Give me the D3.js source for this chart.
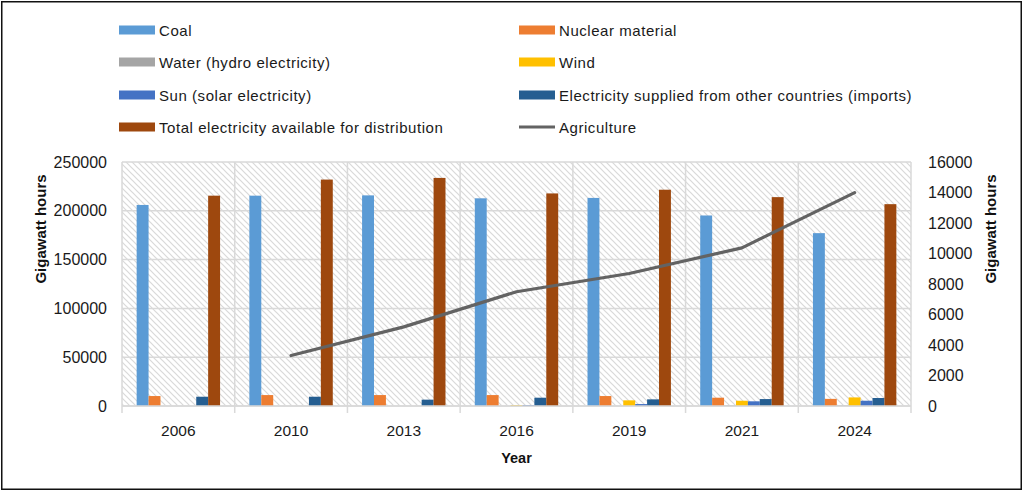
<!DOCTYPE html>
<html>
<head>
<meta charset="utf-8">
<script src="https://cdn.jsdelivr.net/npm/d3@7/dist/d3.min.js"></script>
<style>
  html, body { margin: 0; padding: 0; background: #fff; }
  svg { display: block; font-family: "Liberation Sans", Arial, sans-serif; }
</style>
</head>
<body>
<svg id="chart" width="1024" height="491"></svg>
<script>
// ---------- DATA ----------
const years = ["2006", "2010", "2013", "2016", "2019", "2021", "2024"];
const seriesNames = [
  "Coal",
  "Nuclear material",
  "Water (hydro electricity)",
  "Wind",
  "Sun (solar electricity)",
  "Electricity supplied from other countries (imports)",
  "Total electricity available for distribution"
];
const coal    = [206000, 215500, 215800, 212800, 213200, 195200, 177100];
const nuclear = [10200, 11200, 11200, 11200, 10200, 8500, 7300];
const hydro   = [0, 0, 0, 0, 0, 600, 600];
const wind    = [0, 0, 0, 900, 5800, 5400, 8800];
const solar   = [0, 0, 0, 900, 2000, 4800, 5400];
const imports = [9500, 9500, 6500, 8500, 6800, 7100, 8200];
const total   = [215500, 232000, 233700, 217800, 221600, 214000, 206800];
const agriculture = [null, 3310, 5190, 7490, 8690, 10370, 13990];
const lineName = "Agriculture";
const leftTicks = [0, 50000, 100000, 150000, 200000, 250000];
const rightTicks = [0, 2000, 4000, 6000, 8000, 10000, 12000, 14000, 16000];
const seriesValues = [coal, nuclear, hydro, wind, solar, imports, total];
const colors = ["#5B9BD5", "#ED7D31", "#A5A5A5", "#FFC000", "#4472C4", "#255E91", "#9E480E"];
const lineColor = "#636363";

// ---------- LAYOUT ----------
const svg = d3.select("#chart");
const L = 122, R = 911, T = 162, B = 406;

const x0 = d3.scaleBand().domain(years).range([L, R]).padding(0);
const bw = x0.bandwidth();
const x1 = d3.scaleBand().domain(seriesNames).range([bw * 0.13, bw * 0.87]).padding(0);
const yL = d3.scaleLinear().domain([0, 250000]).range([B, T]);
const yR = d3.scaleLinear().domain([0, 16000]).range([B, T]);

// outer border
svg.append("rect").attr("x", 1.75).attr("y", 1.75).attr("width", 1019.5).attr("height", 487.5)
  .attr("fill", "#fff").attr("stroke", "#111").attr("stroke-width", 1.5);

// hatch pattern
const defs = svg.append("defs");
const pat = defs.append("pattern").attr("id", "hatch").attr("patternUnits", "userSpaceOnUse")
  .attr("width", 6).attr("height", 6);
pat.append("rect").attr("width", 6).attr("height", 6).attr("fill", "#fff");
pat.append("path").attr("d", "M0,0L6,6M-1,5L1,7M5,-1L7,1")
  .attr("stroke", "#d9d9d9").attr("stroke-width", 1.2);

svg.append("rect").attr("x", L).attr("y", T).attr("width", R - L).attr("height", B - T)
  .attr("fill", "url(#hatch)");

// horizontal gridlines
svg.append("g").selectAll("line").data(leftTicks).join("line")
  .attr("x1", L).attr("x2", R).attr("y1", d => yL(d)).attr("y2", d => yL(d))
  .attr("stroke", "#d9d9d9").attr("stroke-width", 1.5);

// vertical gridlines at category boundaries
const bounds = years.map(y => x0(y)).concat([R]);
svg.append("g").selectAll("line").data(bounds).join("line")
  .attr("x1", d => d).attr("x2", d => d).attr("y1", T).attr("y2", B + 7)
  .attr("stroke", "#d9d9d9").attr("stroke-width", 1.5);

// bars
const data = years.map((yr, i) => ({ yr, vals: seriesNames.map((s, j) => ({ s, j, v: seriesValues[j][i] })) }));
svg.append("g").selectAll("g").data(data).join("g")
  .attr("transform", d => `translate(${x0(d.yr)},0)`)
  .selectAll("rect").data(d => d.vals).join("rect")
  .attr("x", d => x1(d.s)).attr("width", x1.bandwidth())
  .attr("y", d => yL(d.v)).attr("height", d => B - yL(d.v))
  .attr("fill", d => colors[d.j]);

// line
const lineGen = d3.line()
  .defined(d => d.v !== null)
  .x(d => x0(d.yr) + bw / 2).y(d => yR(d.v));
svg.append("path").datum(years.map((yr, i) => ({ yr, v: agriculture[i] })))
  .attr("d", lineGen).attr("fill", "none").attr("stroke", lineColor)
  .attr("stroke-width", 3.2).attr("stroke-linejoin", "round").attr("stroke-linecap", "round");

// x axis baseline
svg.append("line").attr("x1", L).attr("x2", R).attr("y1", B).attr("y2", B)
  .attr("stroke", "#d9d9d9").attr("stroke-width", 1.5);

// axes
const axL = svg.append("g").attr("transform", `translate(${L},0)`)
  .call(d3.axisLeft(yL).tickValues(leftTicks).tickSize(0).tickPadding(15).tickFormat(d3.format("d")));
const axR = svg.append("g").attr("transform", `translate(${R},0)`)
  .call(d3.axisRight(yR).tickValues(rightTicks).tickSize(0).tickPadding(17).tickFormat(d3.format("d")));
const axX = svg.append("g").attr("transform", `translate(0,${B})`)
  .call(d3.axisBottom(x0).tickSize(0).tickPadding(19));
[axL, axR].forEach(a => {
  a.select(".domain").remove();
  a.selectAll("text").attr("font-size", 16).attr("fill", "#1a1a1a")
    .attr("font-family", "'Liberation Sans', Arial, sans-serif");
});
axX.select(".domain").remove();
axX.selectAll("text").attr("font-size", 15.5).attr("fill", "#1a1a1a")
  .attr("font-family", "'Liberation Sans', Arial, sans-serif");

// axis titles
svg.append("text").attr("transform", `translate(46,229) rotate(-90)`)
  .attr("text-anchor", "middle").attr("font-size", 15).attr("font-weight", "bold")
  .attr("fill", "#111").text("Gigawatt hours");
svg.append("text").attr("transform", `translate(996,229) rotate(-90)`)
  .attr("text-anchor", "middle").attr("font-size", 15).attr("font-weight", "bold")
  .attr("fill", "#111").text("Gigawatt hours");
svg.append("text").attr("x", (L + R) / 2).attr("y", 463)
  .attr("text-anchor", "middle").attr("font-size", 14.5).attr("font-weight", "bold")
  .attr("fill", "#111").text("Year");

// legend
const legendItems = seriesNames.map((s, j) => ({ name: s, color: colors[j], type: "bar" }))
  .concat([{ name: lineName, color: lineColor, type: "line" }]);
const colX = [119, 519];
const rowY = [30, 62, 95, 127];
const lg = svg.append("g").selectAll("g").data(legendItems).join("g")
  .attr("transform", (d, i) => `translate(${colX[i % 2]},${rowY[Math.floor(i / 2)]})`);
lg.filter(d => d.type === "bar").append("rect")
  .attr("x", 0).attr("y", -4.5).attr("width", 36).attr("height", 9).attr("fill", d => d.color);
lg.filter(d => d.type === "line").append("line")
  .attr("x1", 0).attr("x2", 36).attr("y1", 0).attr("y2", 0)
  .attr("stroke", d => d.color).attr("stroke-width", 3);
lg.append("text").attr("x", 40).attr("y", 5.5).attr("font-size", 15).attr("letter-spacing", 0.55)
  .attr("fill", "#1a1a1a").text(d => d.name);
</script>
</body>
</html>
